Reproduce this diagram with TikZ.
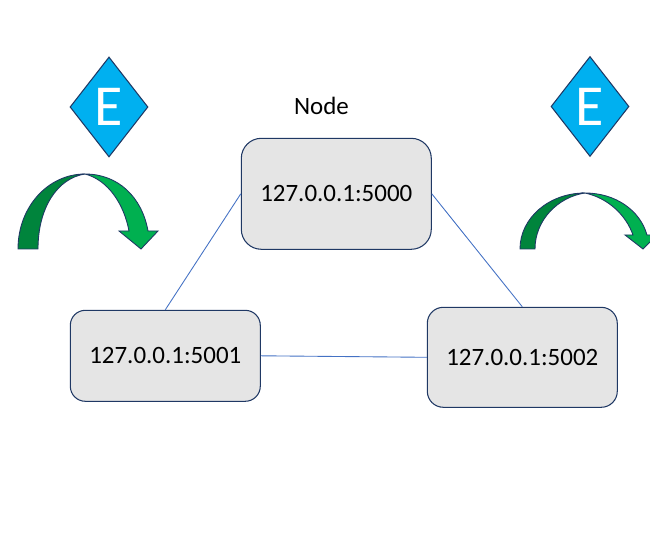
\documentclass[tikz,border=0pt]{standalone}
\usepackage{fontspec}
\setmainfont{Carlito}
\usetikzlibrary{shapes.geometric}
\definecolor{boxfill}{HTML}{E5E5E5}
\definecolor{edgeblue}{HTML}{4472C4}
\definecolor{navy}{HTML}{1F3864}
\definecolor{leaderblue}{HTML}{00B0F0}
\definecolor{arrowlight}{HTML}{00B050}
\definecolor{arrowdark}{HTML}{00843C}
\tikzset{
  hostbox/.style={draw=navy,fill=boxfill,line width=0.6pt,inner sep=0pt,font=\fontsize{14.2}{16}\selectfont},
  leader/.style={diamond,draw=navy,fill=leaderblue,line width=0.6pt,inner sep=0pt,text=white,
    minimum width=78*0.02cm,minimum height=100*0.02cm,font=\fontsize{33}{35}\selectfont},
  link/.style={edgeblue,line width=0.5pt},
  turn/.style={draw=navy,line width=0.5pt,line join=miter}
}
\begin{document}
\begin{tikzpicture}[x=0.02cm,y=-0.02cm]
\useasboundingbox (0,0) rectangle (650,547);
% the three hosts
\node[hostbox,minimum width=3.8cm,minimum height=2.22cm,rounded corners=0.4cm] (host0) at (336.3,193.8) {127.0.0.1:5000};
\node[hostbox,minimum width=3.8cm,minimum height=1.82cm,rounded corners=0.3cm] (host1) at (165.3,355.8) {127.0.0.1:5001};
\node[hostbox,minimum width=3.8cm,minimum height=2cm,rounded corners=0.32cm] (host2) at (522.3,357.3) {127.0.0.1:5002};
\node[font=\fontsize{14.2}{16}\selectfont] (title) at (321.5,106) {Node};
% links
\draw[link] (host0.west) -- (host1.north);
\draw[link] (host0.east) -- (host2.north);
\draw[link] (host1.east) -- (host2.west);
% leaders
\node[leader] (leftE) at (109,107) {E};
\node[leader] (rightE) at (590,106.5) {E};
% left turn arrow
\draw[turn,fill=arrowdark] (18,249) .. controls (18,207) and (48,174) .. (85,174)
  .. controls (58,178) and (38,207) .. (38,249) -- cycle;
\draw[turn,fill=arrowlight] (85,174) .. controls (118,174) and (142,197) .. (148,231)
  -- (158,231) -- (141,249) -- (119,231) -- (129,231)
  .. controls (124,204) and (108,180) .. (85,174) -- cycle;
% right turn arrow
\draw[turn,fill=arrowdark] (520,249) .. controls (520,218) and (549,193) .. (585,193)
  .. controls (558,197) and (535,220) .. (535,249) -- cycle;
\draw[turn,fill=arrowlight] (585,193) .. controls (615,193) and (640,210) .. (647,235)
  -- (657,235) -- (643,249) -- (625,235) -- (633,235)
  .. controls (626,215) and (608,198) .. (585,193) -- cycle;
\end{tikzpicture}
\end{document}
